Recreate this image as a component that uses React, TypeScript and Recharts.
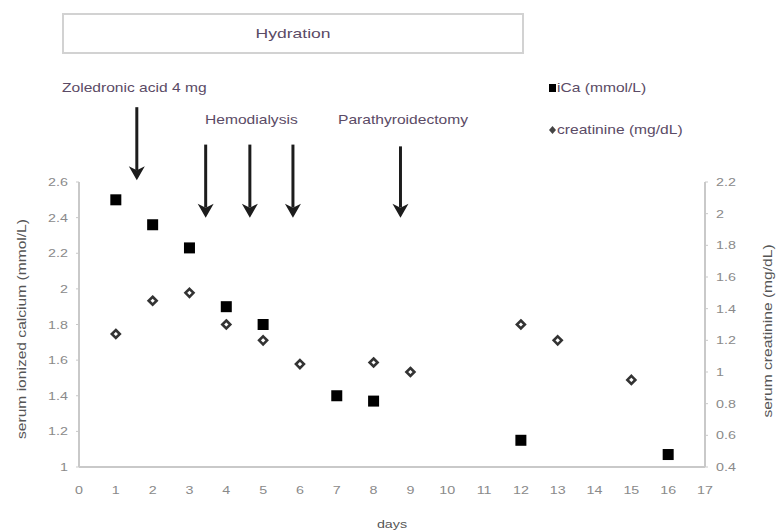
import React from 'react';
import { ScatterChart, Scatter, XAxis, YAxis, ReferenceLine } from 'recharts';

// x axis: days after admission
const dayTicks = [0, 1, 2, 3, 4, 5, 6, 7, 8, 9, 10, 11, 12, 13, 14, 15, 16, 17];
const calciumTicks = [1, 1.2, 1.4, 1.6, 1.8, 2, 2.2, 2.4, 2.6];
const creatinineTicks = [0.4, 0.6, 0.8, 1, 1.2, 1.4, 1.6, 1.8, 2, 2.2];

// ionized calcium (mmol/L)
const icaDays = [1, 2, 3, 4, 5, 7, 8, 12, 16];
const icaValues = [2.5, 2.36, 2.23, 1.9, 1.8, 1.4, 1.37, 1.15, 1.07];

// creatinine (mg/dL)
const creatinineDays = [1, 2, 3, 4, 5, 6, 8, 9, 12, 13, 15];
const creatinineValues = [1.24, 1.45, 1.5, 1.3, 1.2, 1.05, 1.06, 1.0, 1.3, 1.2, 0.95];

// treatment arrows, in day / calcium-axis units
const arrowDays = [1.57, 3.44, 4.64, 5.81, 8.73];
const arrowTops = [3.02, 2.81, 2.81, 2.81, 2.8];
const arrowTips = [2.61, 2.4, 2.4, 2.4, 2.4];

const icaData = icaDays.map((day, i) => ({ day, value: icaValues[i] }));
const creatinineData = creatinineDays.map((day, i) => ({ day, value: creatinineValues[i] }));

const FONT = '"Liberation Sans", Arial, sans-serif';
const TEXT = '#5b4b66';
const TICK = '#8a8a8a';
const AXIS = '#c9c9c9';
const STRETCH = 1.3;

const XTick = ({ x, y, payload }: any) => (
  <text
    transform={`translate(${x},${y + 27}) scale(${STRETCH},1)`}
    textAnchor="middle"
    fontSize={11}
    fill={TICK}
    fontFamily={FONT}
  >
    {payload.value}
  </text>
);

const LeftTick = ({ x, y, payload }: any) => (
  <text
    transform={`translate(${x - 8},${y + 4}) scale(${STRETCH},1)`}
    textAnchor="end"
    fontSize={11}
    fill={TICK}
    fontFamily={FONT}
  >
    {payload.value}
  </text>
);

const RightTick = ({ x, y, payload }: any) => (
  <text
    transform={`translate(${x + 8},${y + 4}) scale(${STRETCH},1)`}
    textAnchor="start"
    fontSize={11}
    fill={TICK}
    fontFamily={FONT}
  >
    {payload.value}
  </text>
);

const Square = ({ cx, cy }: any) => (
  <rect x={cx - 5.5} y={cy - 5.5} width={11} height={11} fill="#000" />
);

const Diamond = ({ cx, cy }: any) => (
  <polygon
    points={`${cx},${cy - 4} ${cx + 4},${cy} ${cx},${cy + 4} ${cx - 4},${cy}`}
    fill="#fff"
    stroke="#333"
    strokeWidth={2.6}
  />
);

const Arrow = ({ x1, y1, x2, y2 }: any) => (
  <g>
    <line x1={x1} y1={y1} x2={x2} y2={y2 - 10} stroke="#1c1c1c" strokeWidth={3} />
    <polygon
      points={`${x2 - 8},${y2 - 14} ${x2},${y2 - 10} ${x2 + 8},${y2 - 14} ${x2},${y2}`}
      fill="#1c1c1c"
    />
  </g>
);

export default function App() {
  return (
    <div
      style={{
        position: 'absolute',
        left: 0,
        top: 0,
        width: 776,
        height: 531,
        background: '#fff',
        fontFamily: FONT,
      }}
    >
      <ScatterChart width={776} height={531} margin={{ top: 182, right: 0, bottom: 0, left: 0 }}>
        <XAxis
          type="number"
          dataKey="day"
          domain={[0, 17]}
          ticks={dayTicks}
          interval={0}
          height={64}
          tickLine={false}
          tickSize={0}
          tickMargin={0}
          axisLine={{ stroke: AXIS, strokeWidth: 2 }}
          tick={<XTick />}
        />
        <YAxis
          yAxisId="left"
          type="number"
          dataKey="value"
          domain={[1, 2.6]}
          ticks={calciumTicks}
          interval={0}
          width={79}
          tickSize={3}
          tickMargin={0}
          tickLine={{ stroke: AXIS }}
          axisLine={{ stroke: AXIS, strokeWidth: 2 }}
          tick={<LeftTick />}
        />
        <YAxis
          yAxisId="right"
          orientation="right"
          type="number"
          dataKey="value"
          domain={[0.4, 2.2]}
          ticks={creatinineTicks}
          interval={0}
          width={71}
          tickSize={3}
          tickMargin={0}
          tickLine={{ stroke: AXIS }}
          axisLine={{ stroke: AXIS, strokeWidth: 2 }}
          tick={<RightTick />}
        />
        {arrowDays.map((d, i) => (
          <ReferenceLine
            key={i}
            yAxisId="left"
            ifOverflow="visible"
            segment={[
              { x: d, y: arrowTops[i] },
              { x: d, y: arrowTips[i] },
            ]}
            shape={Arrow}
          />
        ))}
        <Scatter
          name="iCa (mmol/L)"
          data={icaData}
          yAxisId="left"
          shape={Square}
          isAnimationActive={false}
        />
        <Scatter
          name="creatinine (mg/dL)"
          data={creatinineData}
          yAxisId="right"
          shape={Diamond}
          isAnimationActive={false}
        />
      </ScatterChart>

      {/* annotations above the plot, legend and axis titles */}
      <svg
        width={776}
        height={531}
        style={{ position: 'absolute', left: 0, top: 0, pointerEvents: 'none' }}
      >
        <rect x={63} y={14} width={460} height={39} fill="none" stroke="#d2d2d2" strokeWidth={2} />
        <text
          transform={`translate(293,38) scale(1.35,1)`}
          textAnchor="middle"
          fontSize={13}
          fill={TEXT}
          fontFamily={FONT}
        >
          Hydration
        </text>
        <text transform={`translate(62,92) scale(${STRETCH},1)`} fontSize={12} fill={TEXT} fontFamily={FONT}>
          Zoledronic acid 4 mg
        </text>
        <text transform={`translate(205,124) scale(${STRETCH},1)`} fontSize={12} fill={TEXT} fontFamily={FONT}>
          Hemodialysis
        </text>
        <text transform={`translate(338,124) scale(${STRETCH},1)`} fontSize={12} fill={TEXT} fontFamily={FONT}>
          Parathyroidectomy
        </text>

        <rect x={549} y={84} width={7} height={8} fill="#000" />
        <text transform={`translate(557,92) scale(${STRETCH},1)`} fontSize={12} fill={TEXT} fontFamily={FONT}>
          iCa (mmol/L)
        </text>
        <polygon points="552.5,126 556,130 552.5,134 549,130" fill="#444" />
        <text transform={`translate(557,134) scale(${STRETCH},1)`} fontSize={12} fill={TEXT} fontFamily={FONT}>
          creatinine (mg/dL)
        </text>

        <text
          transform="translate(21,329) rotate(-90) scale(1.2,1)"
          textAnchor="middle"
          dominantBaseline="central"
          fontSize={13}
          fill="#555"
          fontFamily={FONT}
        >
          serum ionized calcium (mmol/L)
        </text>
        <text
          transform="translate(767,331) rotate(-90) scale(1.2,1)"
          textAnchor="middle"
          dominantBaseline="central"
          fontSize={13}
          fill="#555"
          fontFamily={FONT}
        >
          serum creatinine (mg/dL)
        </text>
        <text
          transform={`translate(392,528) scale(${STRETCH},1)`}
          textAnchor="middle"
          fontSize={11}
          fill="#555"
          fontFamily={FONT}
        >
          days
        </text>
      </svg>
    </div>
  );
}
